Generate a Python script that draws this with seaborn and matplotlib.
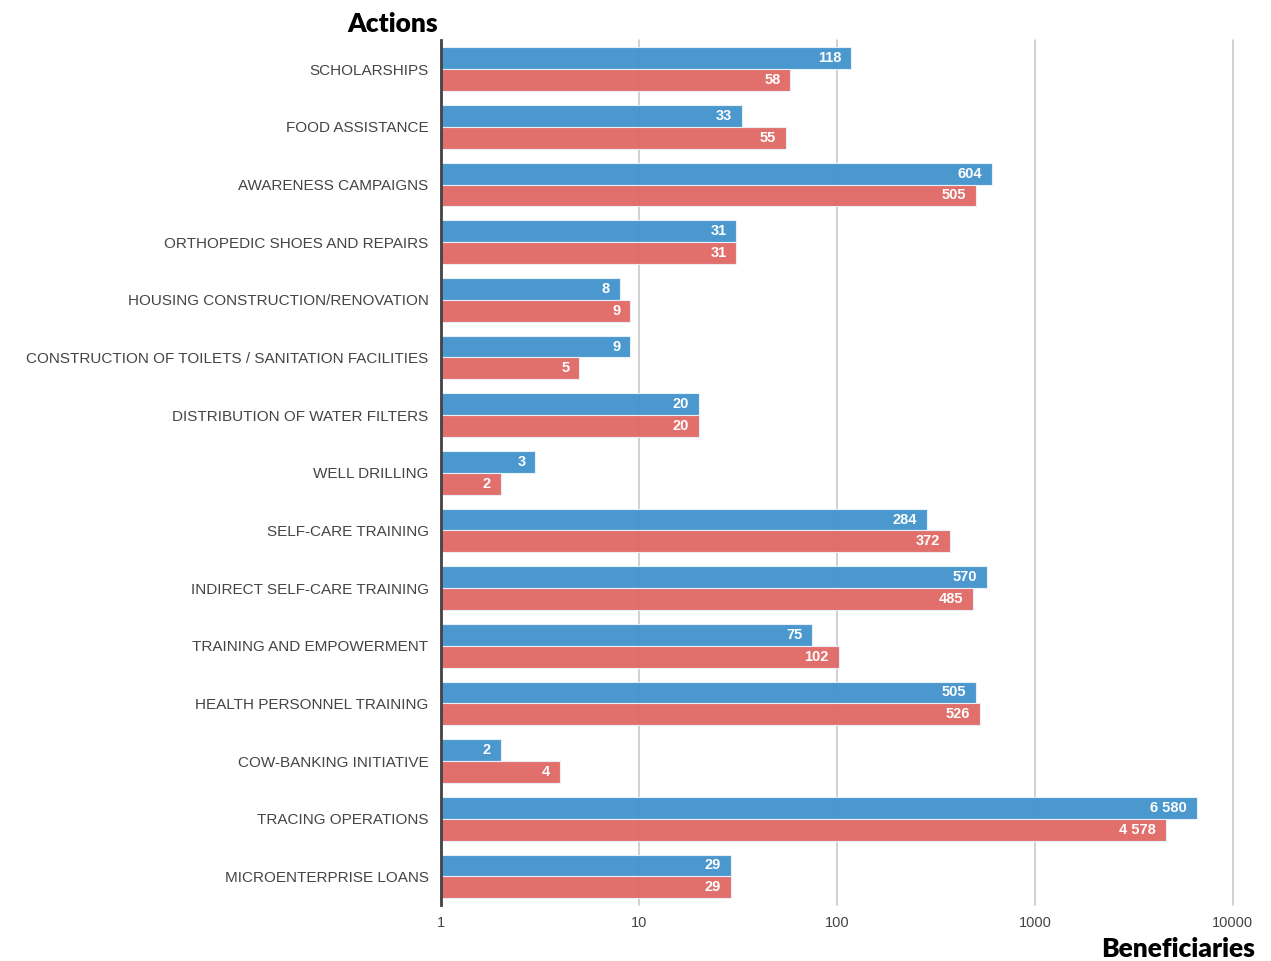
import pandas as pd
import seaborn as sns
import matplotlib.pyplot as plt
from matplotlib.ticker import FixedLocator, NullLocator

actions = [
    "SCHOLARSHIPS",
    "FOOD ASSISTANCE",
    "AWARENESS CAMPAIGNS",
    "ORTHOPEDIC SHOES AND REPAIRS",
    "HOUSING CONSTRUCTION/RENOVATION",
    "CONSTRUCTION OF TOILETS / SANITATION FACILITIES",
    "DISTRIBUTION OF WATER FILTERS",
    "WELL DRILLING",
    "SELF-CARE TRAINING",
    "INDIRECT SELF-CARE TRAINING",
    "TRAINING AND EMPOWERMENT",
    "HEALTH PERSONNEL TRAINING",
    "COW-BANKING INITIATIVE",
    "TRACING OPERATIONS",
    "MICROENTERPRISE LOANS",
]
blue_values = [118, 33, 604, 31, 8, 9, 20, 3, 284, 570, 75, 505, 2, 6580, 29]
red_values = [58, 55, 505, 31, 9, 5, 20, 2, 372, 485, 102, 526, 4, 4578, 29]
series_names = ["blue", "red"]
x_ticks = [1, 10, 100, 1000, 10000]

df = pd.DataFrame({
    "action": actions * 2,
    "series": [series_names[0]] * len(actions) + [series_names[1]] * len(actions),
    "beneficiaries": blue_values + red_values,
})

sns.set_style("white")
plt.rcParams['font.family'] = ['Liberation Sans', 'DejaVu Sans']

fig = plt.figure(figsize=(12.71, 9.61), dpi=100)
ax = fig.add_axes([0.347, 0.058, 0.623, 0.900])

palette = {"blue": "#4394cd", "red": "#e06a67"}
sns.barplot(ax=ax, data=df, y="action", x="beneficiaries", hue="series",
            palette=palette, saturation=1, orient="h", width=0.76, alpha=0.96,
            edgecolor="#eaf2fa", linewidth=0.8, legend=False, zorder=2)

ax.set_xscale("log")
ax.set_xlim(1, 10000)
ax.set_ylim(14.5, -0.5)
ax.xaxis.set_major_locator(FixedLocator(x_ticks))
ax.xaxis.set_minor_locator(NullLocator())
ax.set_xticklabels([str(t) for t in x_ticks])
ax.grid(axis="x", color="#c4c4c4", linewidth=1.1, zorder=0)
for gl in ax.xaxis.get_gridlines():
    gl.set_clip_on(False)
ax.set_axisbelow(True)

for container in ax.containers:
    for bar in container:
        w = bar.get_width()
        label = f"{int(round(w)):,}".replace(",", " ")
        ax.annotate(label, xy=(w, bar.get_y() + bar.get_height() / 2),
                    xytext=(-7, 0), textcoords="offset points",
                    ha="right", va="center", color="white",
                    fontsize=10.5, fontweight="bold", zorder=5)

for s in ["top", "right", "bottom"]:
    ax.spines[s].set_visible(False)
ax.spines["left"].set_color("#444444")
ax.spines["left"].set_linewidth(2)

ax.tick_params(axis="y", length=0, pad=9, labelsize=11, labelcolor="#444444")
ax.tick_params(axis="x", length=0, pad=8, labelsize=10.5, labelcolor="#444444")
ax.set_xlabel("")
ax.set_ylabel("")

fig.text(438 / 1271, 1 - 24 / 961, "Actions", ha="right", va="center",
         fontsize=19, fontweight="heavy", family=["Lato", "DejaVu Sans"], color="black")
fig.text(1255 / 1271, 1 - 949 / 961, "Beneficiaries", ha="right", va="center",
         fontsize=19, fontweight="heavy", family=["Lato", "DejaVu Sans"], color="black")

fig.savefig("out.png", dpi=100)
